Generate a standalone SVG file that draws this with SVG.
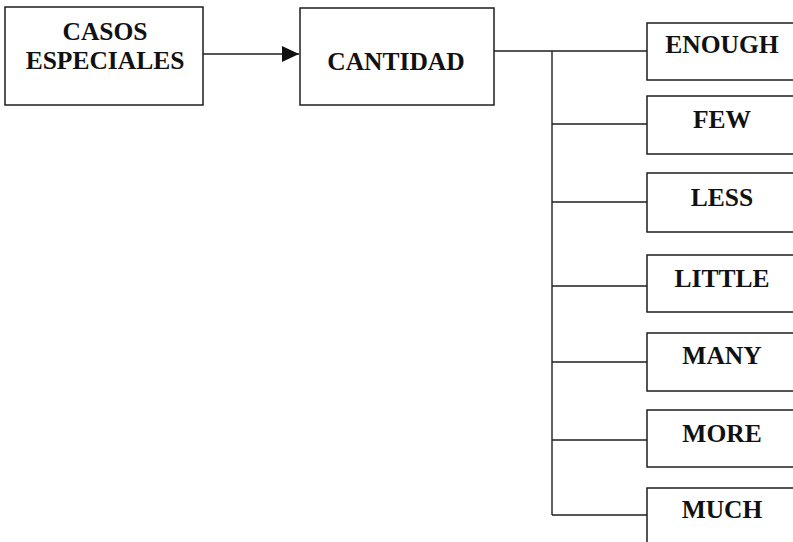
<svg xmlns="http://www.w3.org/2000/svg" width="793" height="542" viewBox="0 0 793 542">
  <style>
    .box { fill: #ffffff; stroke: #1e1e1e; stroke-width: 1.5; }
    .lbl { font-family: "Liberation Serif", "Times New Roman", serif; font-weight: bold; font-size: 25.5px; fill: #111111; text-anchor: middle; }
    .wire { fill: none; stroke: #1e1e1e; stroke-width: 1.4; }
  </style>
  <defs>
    <marker id="arrowhead" markerWidth="18" markerHeight="18" refX="17" refY="8" orient="auto" markerUnits="userSpaceOnUse">
      <path d="M0,0 L17,8 L0,16 Z" fill="#111111"/>
    </marker>
  </defs>
  <rect width="793" height="542" fill="#ffffff"/>

  <!-- connectors -->
  <g id="connectors">
    <line class="wire" x1="203" y1="54" x2="299" y2="54" marker-end="url(#arrowhead)"/>
    <line class="wire" x1="494" y1="51" x2="647" y2="51"/>
    <line class="wire" x1="552" y1="51" x2="552" y2="515"/>
    <line class="wire" x1="552" y1="124" x2="647" y2="124"/>
    <line class="wire" x1="552" y1="202" x2="647" y2="202"/>
    <line class="wire" x1="552" y1="286" x2="647" y2="286"/>
    <line class="wire" x1="552" y1="362" x2="647" y2="362"/>
    <line class="wire" x1="552" y1="440" x2="647" y2="440"/>
    <line class="wire" x1="552" y1="515" x2="647" y2="515"/>
  </g>

  <g id="casos-especiales">
    <rect class="box" x="5" y="7" width="198" height="98"/>
    <text class="lbl" x="105" y="40">CASOS</text>
    <text class="lbl" x="105" y="69">ESPECIALES</text>
  </g>

  <g id="cantidad">
    <rect class="box" x="300" y="8" width="194" height="97"/>
    <text class="lbl" x="396" y="70">CANTIDAD</text>
  </g>

  <g id="enough">
    <rect class="box" x="647" y="23" width="152" height="57"/>
    <text class="lbl" x="722" y="53">ENOUGH</text>
  </g>

  <g id="few">
    <rect class="box" x="647" y="96" width="152" height="58"/>
    <text class="lbl" x="722" y="128">FEW</text>
  </g>

  <g id="less">
    <rect class="box" x="647" y="173" width="152" height="59"/>
    <text class="lbl" x="722" y="206">LESS</text>
  </g>

  <g id="little">
    <rect class="box" x="647" y="255" width="152" height="57"/>
    <text class="lbl" x="722" y="287">LITTLE</text>
  </g>

  <g id="many">
    <rect class="box" x="647" y="333" width="152" height="58"/>
    <text class="lbl" x="722" y="364">MANY</text>
  </g>

  <g id="more">
    <rect class="box" x="647" y="410" width="152" height="57"/>
    <text class="lbl" x="722" y="442">MORE</text>
  </g>

  <g id="much">
    <rect class="box" x="647" y="488" width="152" height="60"/>
    <text class="lbl" x="722" y="518">MUCH</text>
  </g>
</svg>
